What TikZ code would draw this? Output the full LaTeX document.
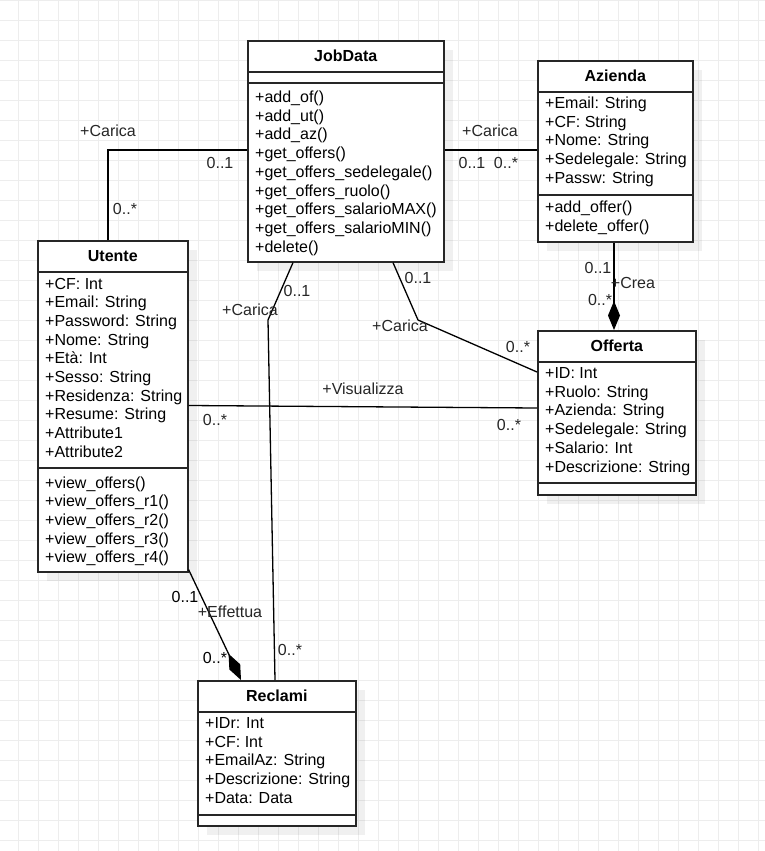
\documentclass[tikz,border=0pt]{standalone}
\usepackage{fontspec}
\setmainfont{Liberation Sans}
\usetikzlibrary{arrows.meta,shadows,calc}

% one text row per member, placed on successive baselines
\newcommand\memberrows[4]{%
  \foreach \txt [count=\k from 0] in {#4}
    \node[member, name=#1-\k] at (#2, {#3+18.7*\k}) {\txt};}

\begin{document}
\begin{tikzpicture}[x=1pt,y=-1pt,
  umlbox/.style={draw=black!85, line width=1.6pt, fill=white, inner sep=0pt, anchor=north west,
    drop shadow={shadow xshift=9pt, shadow yshift=-9pt, fill=black, opacity=0.06}},
  sepline/.style={draw=black!85, line width=1.6pt},
  classtitle/.style={font=\fontsize{16}{19}\selectfont\bfseries, inner sep=0pt},
  member/.style={font=\fontsize{16}{19}\selectfont, inner sep=0pt, anchor=base west},
  tag/.style={font=\fontsize{16}{19}\selectfont, inner sep=0pt, text=black!85},
  edge/.style={draw=black, line width=1.3pt},
  compo/.style={edge, -{Diamond[length=29pt,width=12pt]}},
  gridline/.style={draw=black!7, line width=0.8pt}
]
\useasboundingbox (0,0) rectangle (765,851);
\fill[white] (0,0) rectangle (765,851);

% background grid
\foreach \gx in {18.5,38.5,...,758.5} \draw[gridline] (\gx,0) -- (\gx,851);
\foreach \gy in {0,20,...,840} \draw[gridline] (0,\gy) -- (765,\gy);

% ---------- classes ----------
\node[umlbox, minimum width=196pt, minimum height=221pt] (jobdata) at (247,40) {};
\node[umlbox, minimum width=155pt, minimum height=181pt] (azienda) at (537,60) {};
\node[umlbox, minimum width=150pt, minimum height=331pt] (utente)  at (37,240) {};
\node[umlbox, minimum width=158pt, minimum height=164pt] (offerta) at (537,330) {};
\node[umlbox, minimum width=158pt, minimum height=145pt] (reclami) at (197,680) {};

% compartment separators
\foreach \b/\ya/\yb in {jobdata/32/43, azienda/32/135, utente/32/228, offerta/32/153, reclami/32/135} {
  \draw[sepline] ([yshift=-\ya pt]\b.north west) -- ([yshift=-\ya pt]\b.north east);
  \draw[sepline] ([yshift=-\yb pt]\b.north west) -- ([yshift=-\yb pt]\b.north east);
}

% titles
\node[classtitle] (jobdata-t) at ([yshift=-16pt]jobdata.north) {JobData};
\node[classtitle] (azienda-t) at ([yshift=-16pt]azienda.north) {Azienda};
\node[classtitle] (utente-t)  at ([yshift=-16pt]utente.north)  {Utente};
\node[classtitle] (offerta-t) at ([yshift=-16pt]offerta.north) {Offerta};
\node[classtitle] (reclami-t) at ([yshift=-16pt]reclami.north) {Reclami};

% members
\memberrows{jobdata-m}{255}{102.5}{+add\_of(),+add\_ut(),+add\_az(),+get\_offers(),+get\_offers\_sedelegale(),+get\_offers\_ruolo(),+get\_offers\_salarioMAX(),+get\_offers\_salarioMIN(),+delete()}
\memberrows{azienda-a}{545}{108.5}{+Email: String,+CF: String,+Nome: String,+Sedelegale: String,+Passw: String}
\memberrows{azienda-m}{545}{212.5}{+add\_offer(),+delete\_offer()}
\memberrows{utente-a}{45}{289}{+CF: Int,+Email: String,+Password: String,+Nome: String,+Età: Int,+Sesso: String,+Residenza: String,+Resume: String,+Attribute1,+Attribute2}
\memberrows{utente-m}{45}{488}{+view\_offers(),+view\_offers\_r1(),+view\_offers\_r2(),+view\_offers\_r3(),+view\_offers\_r4()}
\memberrows{offerta-a}{545}{378.5}{+ID: Int,+Ruolo: String,+Azienda: String,+Sedelegale: String,+Salario: Int,+Descrizione: String}
\memberrows{reclami-a}{205}{728.5}{+IDr: Int,+CF: Int,+EmailAz: String,+Descrizione: String,+Data: Data}

% ---------- associations ----------
\coordinate (e1bend) at (108,150);
\draw[edge] (utente.north -| e1bend) -- (e1bend) -- (jobdata.west |- e1bend);
\node[tag] (e1name) at (108,131) {+Carica};
\node[tag] (e1m1) at (220,163) {0..1};
\node[tag] (e1m2) at (125,209) {0..*};

\coordinate (e2row) at (490,150);
\draw[edge] (jobdata.east |- e2row) -- (azienda.west |- e2row);
\node[tag] (e2name) at (490,131) {+Carica};
\node[tag] (e2m1) at (472,163) {0..1};
\node[tag] (e2m2) at (506,163) {0..*};

\coordinate (e3col) at (614,280);
\draw[compo] (azienda.south -| e3col) -- (offerta.north -| e3col);
\node[tag] (e3m1) at (598,268) {0..1};
\node[tag] (e3name) at (633,283) {+Crea};
\node[tag] (e3m2) at (600,300) {0..*};

\coordinate (e4start) at (393,261);
\coordinate (e4bend) at (418,320);
\coordinate (e4end) at (537,372);
\draw[edge] (jobdata.south -| e4start) -- (e4bend) -- (offerta.west |- e4end);
\node[tag] (e4m1) at (418,278) {0..1};
\node[tag] (e4name) at (400,326) {+Carica};
\node[tag] (e4m2) at (518,347) {0..*};

\coordinate (e5start) at (293,261);
\coordinate (e5bend) at (268,320);
\coordinate (e5end) at (275,680);
\draw[edge] (jobdata.south -| e5start) -- (e5bend) -- (reclami.north -| e5end);
\node[tag] (e5name) at (250,310) {+Carica};
\node[tag] (e5m1) at (297,291) {0..1};
\node[tag] (e5m2) at (290,650) {0..*};

\coordinate (e6start) at (187,405.5);
\coordinate (e6end) at (537,408);
\draw[edge] (utente.east |- e6start) -- (offerta.west |- e6end);
\node[tag] (e6name) at (363,389) {+Visualizza};
\node[tag] (e6m1) at (215,420) {0..*};
\node[tag] (e6m2) at (509,425) {0..*};

\coordinate (e7end) at (241,680);
\draw[compo] ([yshift=3pt]utente.south east) -- (reclami.north -| e7end);
\node[tag, text=black] (e7m1) at (185,597) {0..1};
\node[tag] (e7name) at (230,612) {+Effettua};
\node[tag, text=black] (e7m2) at (215,658) {0..*};
\end{tikzpicture}
\end{document}
